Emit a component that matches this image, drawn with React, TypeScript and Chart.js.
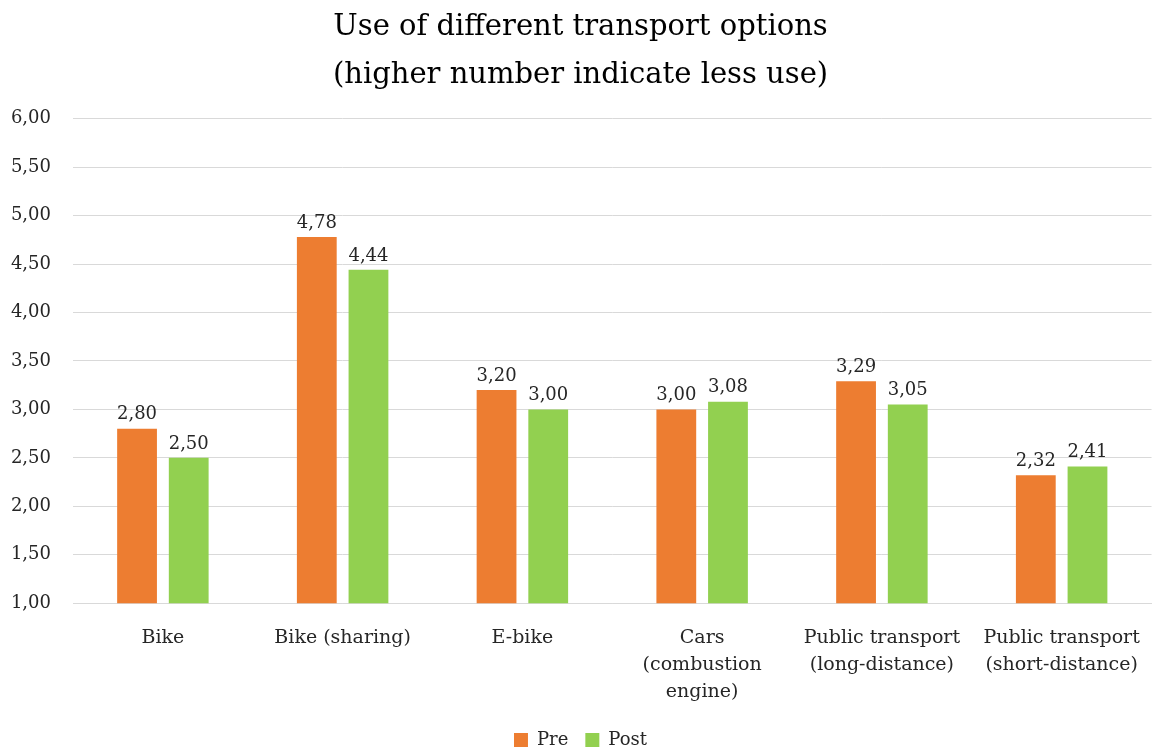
import React, { useEffect, useRef } from "react";
import { Chart, registerables } from "chart.js";

Chart.register(...registerables);

const categories: (string | string[])[] = [
  "Bike",
  "Bike (sharing)",
  "E-bike",
  ["Cars", "(combustion", "engine)"],
  ["Public transport", "(long-distance)"],
  ["Public transport", "(short-distance)"],
];
const preValues = [2.8, 4.78, 3.2, 3.0, 3.29, 2.32];
const postValues = [2.5, 4.44, 3.0, 3.08, 3.05, 2.41];
const titleLines = ["Use of different transport options", "(higher number indicate less use)"];

const FONT = "'DejaVu Serif', serif";
const fmt = (v: number) => v.toFixed(2).replace(".", ",");

const valueLabels = {
  id: "valueLabels",
  afterDatasetsDraw(chart: any) {
    const ctx = chart.ctx;
    ctx.save();
    ctx.font = `18px ${FONT}`;
    ctx.fillStyle = "#262626";
    ctx.textAlign = "center";
    ctx.textBaseline = "bottom";
    chart.data.datasets.forEach((ds: any, i: number) => {
      const meta = chart.getDatasetMeta(i);
      meta.data.forEach((bar: any, j: number) => {
        ctx.fillText(fmt(ds.data[j]), bar.x, bar.y - 5);
      });
    });
    ctx.restore();
  },
};

export default function App() {
  const ref = useRef<HTMLCanvasElement>(null);
  useEffect(() => {
    const chart = new Chart(ref.current!, {
      type: "bar",
      data: {
        labels: categories,
        datasets: [
          { label: "Pre", data: preValues, backgroundColor: "#ED7D31", barPercentage: 0.77, categoryPercentage: 0.575 },
          { label: "Post", data: postValues, backgroundColor: "#92D050", barPercentage: 0.77, categoryPercentage: 0.575 },
        ],
      },
      options: {
        animation: false,
        responsive: false,
        maintainAspectRatio: false,
        layout: { padding: { left: 9, right: 2, top: 4, bottom: -8 } },
        plugins: {
          title: {
            display: true,
            text: titleLines,
            color: "#000",
            font: { family: FONT, size: 29, weight: "normal", lineHeight: 1.65 },
            padding: { top: 0, bottom: 19 },
          },
          legend: {
            position: "bottom",
            labels: {
              boxWidth: 14,
              boxHeight: 14,
              color: "#262626",
              font: { family: FONT, size: 18 },
              padding: 17,
            },
          },
          tooltip: { enabled: false },
        },
        scales: {
          x: {
            grid: { display: false },
            border: { color: "#d9d9d9", width: 1 },
            ticks: { color: "#262626", font: { family: FONT, size: 19, lineHeight: 1.4 }, maxRotation: 0, autoSkip: false, padding: 14 },
            afterFit: (s: any) => {
              s.height -= 5;
            },
          },
          y: {
            min: 1,
            max: 6,
            grid: { color: "#d9d9d9", drawTicks: false },
            border: { display: false },
            ticks: {
              stepSize: 0.5,
              color: "#262626",
              padding: 22,
              font: { family: FONT, size: 18 },
              callback: (v: any) => fmt(Number(v)),
            },
            afterFit: (s: any) => {
              s.width = 64;
            },
          },
        },
      },
      plugins: [valueLabels],
    });
    return () => chart.destroy();
  }, []);
  return (
    <div style={{ position: "absolute", left: 0, top: 0, width: 1154, height: 751, background: "#fff" }}>
      <canvas ref={ref} width={1154} height={751} style={{ width: 1154, height: 751 }} />
    </div>
  );
}
